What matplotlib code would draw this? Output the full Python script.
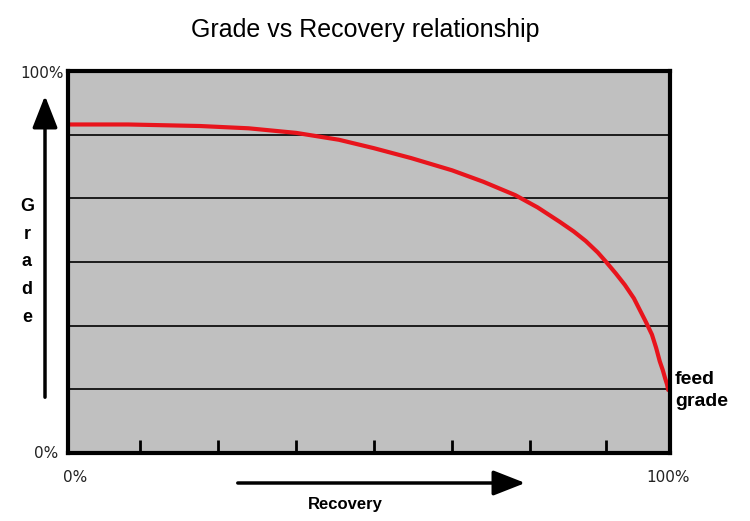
import matplotlib.pyplot as plt
from matplotlib.patches import FancyArrowPatch

# curve: recovery (%) vs grade (%)
recovery = [0, 10, 21.9, 30, 37.9, 45, 50.8, 57, 63.8, 69, 74.3, 78, 81.7, 84, 86, 88, 89.4,
            91, 92.5, 94, 95, 96, 97, 97.7, 98.3, 98.8, 99.2, 99.5, 99.7]
grade = [86, 86, 85.6, 85, 83.8, 82, 79.8, 77.2, 74, 71, 67.5, 64.3, 60.5, 58, 55.5, 52.5, 50,
         47, 44, 40.5, 37.4, 34.3, 31, 27.5, 24, 21.7, 19.5, 18, 16.5]
grid_levels = [100 / 6 * i for i in range(1, 6)]
tick_pos = [12, 24.9, 37.9, 50.8, 63.8, 76.7, 89.4]

fig = plt.figure(figsize=(7.5, 5.21), dpi=100, facecolor='white')
ax = fig.add_axes([68 / 750, 68 / 521, 602 / 750, 382 / 521])
ax.set_facecolor('#c0c0c0')
ax.set_xlim(0, 100)
ax.set_ylim(0, 100)

for g in grid_levels:
    ax.axhline(g, color='black', lw=1.2)
for t in tick_pos:
    ax.plot([t, t], [0, 3.4], color='black', lw=2, solid_capstyle='butt')

ax.plot(recovery, grade, color='#e8141c', lw=3, solid_capstyle='round')

for s in ax.spines.values():
    s.set_linewidth(3)
ax.set_xticks([])
ax.set_yticks([])

fig.text(365 / 750, 1 - 30 / 521, 'Grade vs Recovery relationship', ha='center', va='center',
         fontsize=18, family='Liberation Sans')
small = dict(fontsize=11, family='DejaVu Sans', color='#222222', va='center')
fig.text(64 / 750, 1 - 73 / 521, '100%', ha='right', **small)
fig.text(58 / 750, 1 - 453 / 521, '0%', ha='right', **small)
fig.text(75 / 750, 1 - 478 / 521, '0%', ha='center', **small)
fig.text(668 / 750, 1 - 478 / 521, '100%', ha='center', **small)

fig.text(675 / 750, 1 - 379 / 521, 'feed', ha='left', va='center', fontsize=14,
         fontweight='bold', family='Liberation Sans')
fig.text(675 / 750, 1 - 402 / 521, 'grade', ha='left', va='center', fontsize=14,
         fontweight='bold', family='Liberation Sans')
fig.text(345 / 750, 1 - 505 / 521, 'Recovery', ha='center', va='center', fontsize=12,
         fontweight='bold', family='Liberation Sans')
for i, ch in enumerate('Grade'):
    fig.text(27 / 750, 1 - (207 + i * 27.5) / 521, ch, ha='center', va='center',
             fontsize=13, fontweight='bold', family='Liberation Sans')

arrow = dict(arrowstyle='-|>,head_length=1.4,head_width=0.55', color='black', lw=2.5,
             mutation_scale=14, transform=fig.transFigure)
fig.add_artist(FancyArrowPatch((45 / 750, 1 - 400 / 521), (45 / 750, 1 - 93 / 521), **arrow))
fig.add_artist(FancyArrowPatch((235 / 750, 1 - 483 / 521), (528 / 750, 1 - 483 / 521), **arrow))

fig.savefig('out.png', dpi=100)
